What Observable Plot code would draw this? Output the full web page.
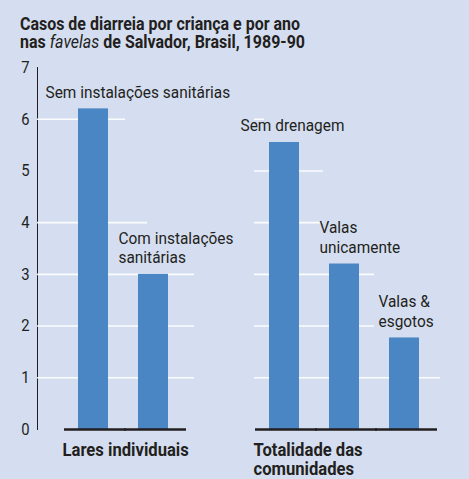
<!DOCTYPE html>
<html>
<head>
<meta charset="utf-8">
<script src="https://cdn.jsdelivr.net/npm/d3@7"></script>
<script src="https://cdn.jsdelivr.net/npm/@observablehq/plot@0.6"></script>
<style>
  html, body { margin: 0; padding: 0; background: #d5def0; }
  #chart {
    position: relative; width: 469px; height: 479px; overflow: hidden;
    background: #d5def0; color: #231f20;
    font-family: Roboto, "Liberation Sans", sans-serif;
  }
  #title { position: absolute; left: 0; top: 0; }
  #left { position: absolute; left: 0; top: 50px; }
  #right { position: absolute; left: 222px; top: 50px; }
</style>
</head>
<body>
<div id="chart">
  <svg id="title" width="469" height="52" font-family="Roboto, 'Liberation Sans', sans-serif" font-size="18.5" font-weight="bold" fill="#231f20">
    <text x="20" y="30" textLength="280" lengthAdjust="spacingAndGlyphs">Casos de diarreia por criança e por ano</text>
    <text x="20" y="48" textLength="285" lengthAdjust="spacingAndGlyphs">nas <tspan font-style="italic" font-weight="normal">favelas</tspan> de Salvador, Brasil, 1989-90</text>
  </svg>
  <div id="left"></div>
  <div id="right"></div>
</div>
<script>
// ---- data ----
const groups = ["Lares individuais", "Totalidade das\ncomunidades"];
const categories = ["Sem instalações sanitárias", "Com instalações sanitárias", "Sem drenagem", "Valas unicamente", "Valas & esgotos"];
const barLabels = ["Sem instalações sanitárias", "Com instalações\nsanitárias", "Sem drenagem", "Valas\nunicamente", "Valas &\nesgotos"];
const groupIndex = [0, 0, 1, 1, 1];
const cases = [6.2, 3.0, 5.55, 3.2, 1.77];
const yTicks = [0, 1, 2, 3, 4, 5, 6, 7];

// ---- build table ----
const rows = categories.map((c, i) => ({category: c, label: barLabels[i], group: groups[groupIndex[i]], value: cases[i], idx: i}));

const BG = "#d5def0", BAR = "#4a85c4", INK = "#231f20";
const FONT = 'Roboto, "Liberation Sans", sans-serif';

// label placement relative to bar centre (layout, not data)
const labelDx = [-48, -35, -44, -25, -26];
// background boxes behind the labels that interrupt the grid lines (layout)
const maskSpec = [
  {inset: 47, lo: -0.7, hi: 0.3},
  {inset: 9, lo: 0.5, hi: 1.5},
  {inset: -5, lo: 0.0, hi: 1.0},
  {inset: -6, lo: 0.1, hi: 2.1},
  {inset: -15, lo: 0.05, hi: 1.6}
];

function panel(gi, opts) {
  const data = rows.filter(r => groupIndex[r.idx] === gi);
  const cats = data.map(d => d.category);
  const gridLevels = yTicks.filter(v => v > 0 && v < 7 && !(gi === 0 && v === 5));
  const marks = [
    Plot.ruleY(gridLevels, {stroke: "white", strokeWidth: 1.6, strokeOpacity: 0.9}),
    ...data.map(d => Plot.barY([d], {
      x: "category", y1: r => r.value + maskSpec[r.idx].lo, y2: r => r.value + maskSpec[r.idx].hi,
      fill: BG, insetLeft: maskSpec[d.idx].inset, insetRight: -300
    })),
    Plot.barY(data, {x: "category", y: "value", fill: BAR}),
    Plot.tickY(data, {x: "category", y: 0, stroke: INK, strokeWidth: 2.6, insetLeft: -14, insetRight: -18}),
    ...data.map(d => Plot.text([d], {
      x: "category", y: "value", text: "label", textAnchor: "start", lineAnchor: "bottom",
      dx: labelDx[d.idx], dy: -11, fontSize: 16.5, lineHeight: 1.2, fill: INK
    })),
    Plot.text([data[0]], {
      x: "category", y: 0, text: "group", textAnchor: "start", lineAnchor: "top",
      dx: -31, dy: 13.5, fontSize: 18.5, fontWeight: "bold", lineHeight: 1.0, fill: INK
    })
  ];
  const svg = Plot.plot({
    width: opts.width, height: 429,
    marginLeft: opts.marginLeft, marginRight: opts.marginRight, marginTop: 17, marginBottom: 50,
    style: {background: "transparent", fontFamily: FONT, fontSize: "16.5px", color: INK, overflow: "visible"},
    x: {domain: cats, range: opts.xRange, paddingInner: 0.5, paddingOuter: 0, axis: null},
    y: opts.yAxis
      ? {domain: [0, 7], ticks: yTicks, tickSize: 0, tickPadding: 8, line: true, label: null, tickFormat: d3.format("d")}
      : {domain: [0, 7], axis: null},
    marks
  });
  // condensed look: narrow the label glyphs horizontally around their anchor
  svg.querySelectorAll('g[aria-label="text"]').forEach(g => {
    const s = g.getAttribute("font-weight") === "bold" ? 0.9 : 0.935;
    g.querySelectorAll("text").forEach(t => {
      t.setAttribute("transform", (t.getAttribute("transform") || "") + ` scale(${s},1)`);
    });
  });
  svg.querySelectorAll('g[aria-label="y-axis tick label"] text').forEach(t => {
    t.setAttribute("transform", (t.getAttribute("transform") || "") + " scale(0.9,1)");
  });
  return svg;
}

document.getElementById("left").append(panel(0, {width: 222, marginLeft: 37, marginRight: 28, xRange: [77, 168], yAxis: true}));
document.getElementById("right").append(panel(1, {width: 247, marginLeft: 32, marginRight: 29, xRange: [46, 197], yAxis: false}));
</script>
</body>
</html>
